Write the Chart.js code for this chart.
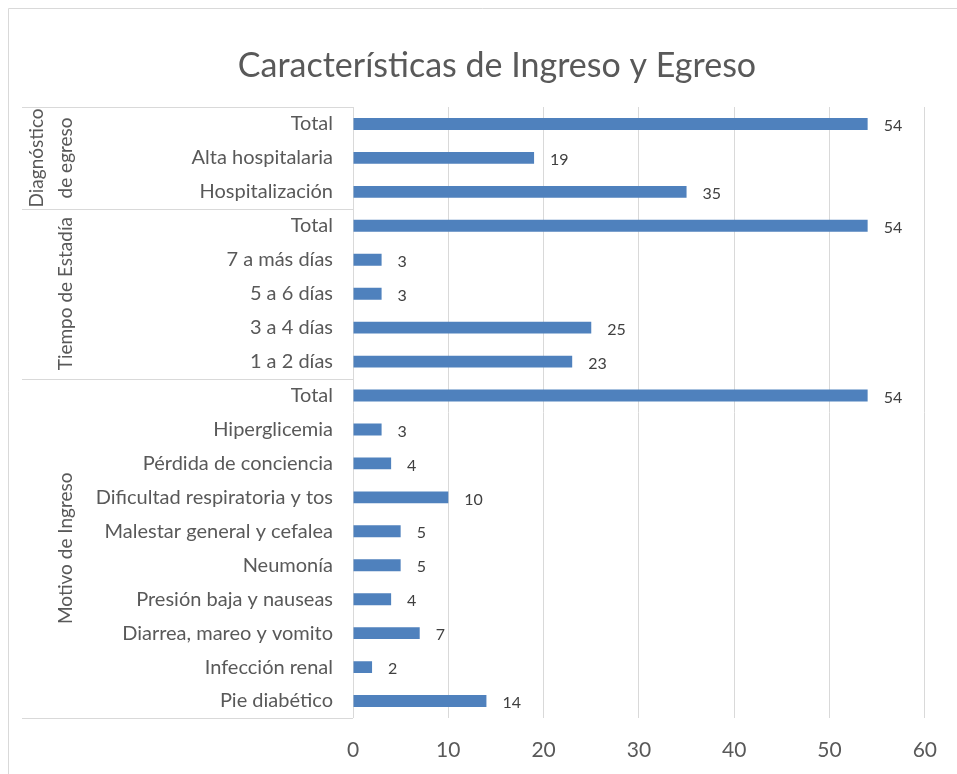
<!doctype html>
<html lang="es">
<head>
<meta charset="utf-8" />
<title>Características de Ingreso y Egreso</title>
<style>
  body { margin: 0; background: #ffffff; }
  #wrap { width: 957px; height: 774px; }
</style>
</head>
<body>
<div id="wrap"><canvas id="chart" width="957" height="774"></canvas></div>

<script src="https://cdn.jsdelivr.net/npm/chart.js"></script>
<script>
// categorías (de arriba hacia abajo) y valores
const categories = [
  "Total", "Alta hospitalaria", "Hospitalización",
  "Total", "7 a más días", "5 a 6 días", "3 a 4 días", "1 a 2 días",
  "Total", "Hiperglicemia", "Pérdida de conciencia", "Dificultad respiratoria y tos",
  "Malestar general y cefalea", "Neumonía", "Presión baja y nauseas",
  "Diarrea, mareo y vomito", "Infección renal", "Pie diabético"
];
const values = [54, 19, 35, 54, 3, 3, 25, 23, 54, 3, 4, 10, 5, 5, 4, 7, 2, 14];

// grupos: nombre (líneas), índice inicial, índice final
const groupNames = [["Diagnóstico", "de egreso"], ["Tiempo de Estadía"], ["Motivo de Ingreso"]];
const groupStart = [0, 3, 8];
const groupEnd = [2, 7, 17];

const xTicks = [0, 10, 20, 30, 40, 50, 60];
const title = "Características de Ingreso y Egreso";

const FONT = "Lato, 'Open Sans', sans-serif";
const GRAY = "#595959";
const LINE = "#D9D9D9";

// dibuja marco, título, separadores de grupo, etiquetas de grupo y de datos
const extras = {
  id: "extras",
  afterDraw(chart) {
    const ctx = chart.ctx;
    const area = chart.chartArea;
    const y = chart.scales.y;
    const x = chart.scales.x;
    const band = y.getPixelForValue(1) - y.getPixelForValue(0);

    ctx.save();
    // marco (solo arriba e izquierda visibles)
    ctx.strokeStyle = LINE;
    ctx.lineWidth = 1;
    ctx.beginPath();
    ctx.moveTo(8.5, 774); ctx.lineTo(8.5, 8.5); ctx.lineTo(957, 8.5);
    ctx.stroke();

    // título
    ctx.fillStyle = GRAY;
    ctx.font = "34px " + FONT;
    ctx.textAlign = "center";
    ctx.textBaseline = "middle";
    ctx.fillText(title, 497, 66);

    // separadores
    ctx.strokeStyle = LINE;
    const bounds = [y.getPixelForValue(0) - band / 2];
    groupEnd.forEach(e => bounds.push(y.getPixelForValue(e) + band / 2));
    bounds.forEach(b => {
      const yy = Math.round(b) + 0.5;
      ctx.beginPath();
      ctx.moveTo(22, yy); ctx.lineTo(area.left, yy);
      ctx.stroke();
    });

    // etiquetas de grupo (rotadas)
    ctx.fillStyle = GRAY;
    ctx.font = "19px " + FONT;
    groupNames.forEach((lines, g) => {
      const cy = (y.getPixelForValue(groupStart[g]) + y.getPixelForValue(groupEnd[g])) / 2;
      const n = lines.length;
      lines.forEach((txt, k) => {
        const cx = 66 - (n - 1 - k) * 29;
        ctx.save();
        ctx.translate(cx, cy);
        ctx.rotate(-Math.PI / 2);
        ctx.textAlign = "center";
        ctx.textBaseline = "middle";
        ctx.fillText(txt, 0, 0);
        ctx.restore();
      });
    });

    // etiquetas de datos
    ctx.fillStyle = "#404040";
    ctx.font = "16px " + FONT;
    ctx.textAlign = "left";
    ctx.textBaseline = "middle";
    values.forEach((v, i) => {
      ctx.fillText(String(v), x.getPixelForValue(v) + 16, y.getPixelForValue(i) + 2);
    });
    ctx.restore();
  }
};

new Chart(document.getElementById("chart"), {
  type: "bar",
  data: {
    labels: categories,
    datasets: [{
      data: values,
      backgroundColor: "#4F81BD",
      borderWidth: 0,
      barPercentage: 0.35,
      categoryPercentage: 1
    }]
  },
  options: {
    indexAxis: "y",
    responsive: false,
    animation: false,
    layout: { padding: { top: 107, right: 30, bottom: 0, left: 0 } },
    plugins: {
      legend: { display: false },
      title: { display: false },
      tooltip: { enabled: false }
    },
    scales: {
      x: {
        min: 0,
        max: 60,
        afterBuildTicks(scale) { scale.ticks = xTicks.map(v => ({ value: v })); },
        afterFit(scale) { scale.height = 56; },
        grid: { color: LINE, lineWidth: 1, drawTicks: false },
        border: { display: false },
        ticks: { padding: 20, color: GRAY, font: { family: FONT, size: 21 } }
      },
      y: {
        afterFit(scale) { scale.width = 353; },
        grid: { display: false, drawTicks: false },
        border: { display: false },
        ticks: { padding: 20, color: GRAY, font: { family: FONT, size: 20 }, autoSkip: false }
      }
    }
  },
  plugins: [extras]
});
</script>
</body>
</html>
